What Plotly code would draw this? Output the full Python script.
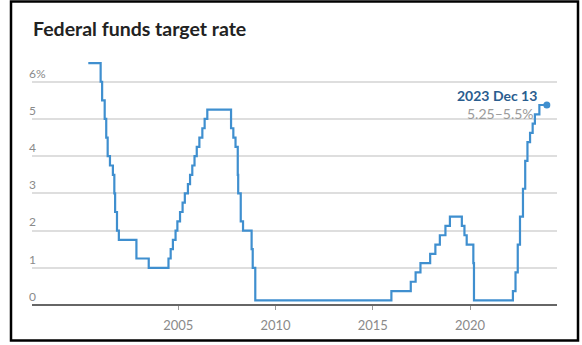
import plotly.graph_objects as go

# Federal funds target rate (midpoint of target range after Dec 2008)
dates = [
    "2000-05-16", "2001-01-03", "2001-01-31", "2001-03-20", "2001-04-18", "2001-05-15",
    "2001-06-27", "2001-08-21", "2001-09-17", "2001-10-02", "2001-11-06", "2001-12-11",
    "2002-11-06", "2003-06-25", "2004-06-30", "2004-08-10", "2004-09-21", "2004-11-10",
    "2004-12-14", "2005-02-02", "2005-03-22", "2005-05-03", "2005-06-30", "2005-08-09",
    "2005-09-20", "2005-11-01", "2005-12-13", "2006-01-31", "2006-03-28", "2006-05-10",
    "2006-06-29", "2007-09-18", "2007-10-31", "2007-12-11", "2008-01-22", "2008-01-30",
    "2008-03-18", "2008-04-30", "2008-10-08", "2008-10-29", "2008-12-16", "2015-12-16",
    "2016-12-14", "2017-03-15", "2017-06-14", "2017-12-13", "2018-03-21", "2018-06-13",
    "2018-09-26", "2018-12-19", "2019-07-31", "2019-09-18", "2019-10-30", "2020-03-03",
    "2020-03-15", "2022-03-16", "2022-05-04", "2022-06-15", "2022-07-27", "2022-09-21",
    "2022-11-02", "2022-12-14", "2023-02-01", "2023-03-22", "2023-05-03", "2023-07-26",
    "2023-12-13",
]
rates = [
    6.50, 6.00, 5.50, 5.00, 4.50, 4.00,
    3.75, 3.50, 3.00, 2.50, 2.00, 1.75,
    1.25, 1.00, 1.25, 1.50, 1.75, 2.00,
    2.25, 2.50, 2.75, 3.00, 3.25, 3.50,
    3.75, 4.00, 4.25, 4.50, 4.75, 5.00,
    5.25, 4.75, 4.50, 4.25, 3.50, 3.00,
    2.25, 2.00, 1.50, 1.00, 0.125, 0.375,
    0.625, 0.875, 1.125, 1.375, 1.625, 1.875,
    2.125, 2.375, 2.125, 1.875, 1.625, 1.125,
    0.125, 0.375, 0.875, 1.625, 2.375, 3.125,
    3.875, 4.375, 4.625, 4.875, 5.125, 5.375,
    5.375,
]
y_ticks = [0, 1, 2, 3, 4, 5, 6]
y_tick_labels = ["0", "1", "2", "3", "4", "5", "6%"]
x_ticks = ["2005-01-01", "2010-01-01", "2015-01-01", "2020-01-01"]
x_tick_labels = ["2005", "2010", "2015", "2020"]
last_date_label = "2023 Dec 13"
last_range_label = "5.25–5.5%"

LINE = "#3f8fcf"
FONT = "Lato, 'Open Sans', sans-serif"

fig = go.Figure()
fig.add_trace(go.Scatter(
    x=dates, y=rates, mode="lines", line=dict(color=LINE, width=2.2, shape="hv"),
    hoverinfo="skip", showlegend=False,
))
fig.add_trace(go.Scatter(
    x=[dates[-1]], y=[rates[-1]], mode="markers",
    marker=dict(color=LINE, size=7), hoverinfo="skip", showlegend=False,
))

fig.add_annotation(x=dates[-1], y=rates[-1], text=f"<b>{last_date_label}</b>",
                   showarrow=False, xanchor="right", yanchor="middle",
                   xshift=-8, yshift=10, font=dict(family=FONT, size=14, color="#2a5d8f"))
fig.add_annotation(x=dates[-1], y=rates[-1], text=last_range_label,
                   showarrow=False, xanchor="right", yanchor="middle",
                   xshift=-11, yshift=-8, font=dict(family=FONT, size=14, color="#9a9a9a"))

fig.add_annotation(xref="paper", yref="paper", x=-0.002, y=1.0, yshift=24,
                   text="<b>Federal funds target rate</b>", showarrow=False,
                   xanchor="left", yanchor="middle",
                   font=dict(family=FONT, size=19.5, color="#222222"))

# outer frame
fig.add_shape(type="rect", xref="paper", yref="paper",
              x0=-0.04, x1=1.04, y0=-0.14, y1=1.2,
              line=dict(color="#000000", width=2.5), fillcolor="rgba(0,0,0,0)")

fig.update_layout(
    width=582, height=345,
    margin=dict(l=32, r=25, t=52, b=38),
    paper_bgcolor="white", plot_bgcolor="white",
    font=dict(family=FONT, size=13, color="#8a8a8a"),
    xaxis=dict(
        type="date", range=["1997-06-24", "2024-06-21"],
        tickvals=x_ticks, ticktext=x_tick_labels,
        showgrid=False, zeroline=False, showline=False,
        ticks="outside", ticklen=4, tickcolor="#999999", tickwidth=1,
        ticklabelstandoff=4,
        tickfont=dict(family=FONT, size=13, color="#8a8a8a"),
    ),
    yaxis=dict(
        range=[0, 6.8], tickvals=y_ticks, ticktext=y_tick_labels,
        showgrid=True, gridcolor="#dedede", gridwidth=1.5,
        zeroline=True, zerolinecolor="#666666", zerolinewidth=2,
        showline=False, ticks="",
        ticklabelposition="inside top",
        ticklabelstandoff=-6,
        tickfont=dict(family=FONT, size=12, color="#8a8a8a"),
    ),
)

fig.write_html("out.html")
